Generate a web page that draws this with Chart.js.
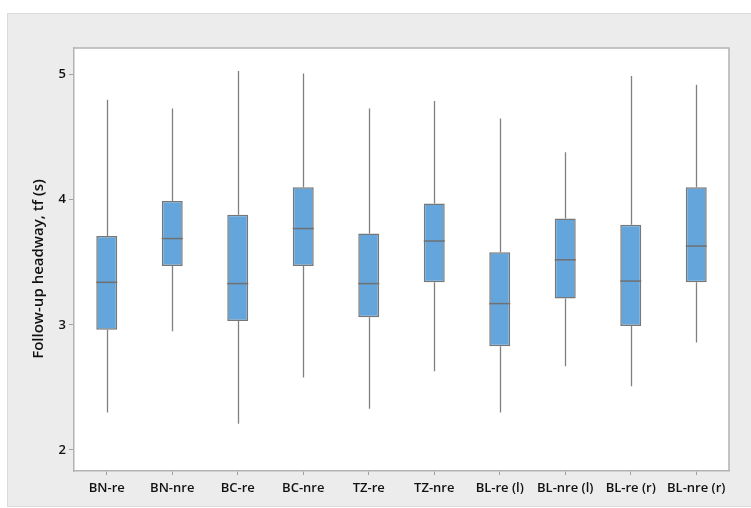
<!DOCTYPE html>
<html>
<head>
<meta charset="utf-8">
<script src="https://cdn.jsdelivr.net/npm/chart.js@4"></script>
<style>
  html, body { margin: 0; padding: 0; background: #ffffff; }
  #wrap { width: 751px; height: 508px; position: relative; }
  canvas { display: block; }
</style>
</head>
<body>
<div id="wrap"><canvas id="c" width="751" height="508"></canvas></div>
<script>
// Follow-up headway per approach group: whisker ends, quartiles and median (seconds)
const categories = ['BN-re', 'BN-nre', 'BC-re', 'BC-nre', 'TZ-re', 'TZ-nre', 'BL-re (l)', 'BL-nre (l)', 'BL-re (r)', 'BL-nre (r)'];
const whiskerLow  = [2.30, 2.95, 2.21, 2.58, 2.33, 2.63, 2.30, 2.67, 2.51, 2.86];
const q1          = [2.96, 3.47, 3.03, 3.47, 3.06, 3.34, 2.83, 3.21, 2.99, 3.34];
const median      = [3.34, 3.69, 3.33, 3.77, 3.33, 3.67, 3.17, 3.52, 3.35, 3.63];
const q3          = [3.71, 3.99, 3.88, 4.10, 3.73, 3.97, 3.58, 3.85, 3.80, 4.10];
const whiskerHigh = [4.80, 4.73, 5.03, 5.01, 4.73, 4.79, 4.65, 4.38, 4.99, 4.92];
const yTickValues = [2, 3, 4, 5];
const yTitle = 'Follow-up headway, tf (s)';

const FONT = "'Open Sans', 'DejaVu Sans', sans-serif";
const LINE_GREY = '#b3b3b3';

// Panel background, white plot area and frame
const framePlugin = {
  id: 'frame',
  beforeDraw(chart) {
    const { ctx, chartArea: a } = chart;
    ctx.save();
    ctx.fillStyle = '#ececec';
    ctx.fillRect(7, 13, 751 - 7, 506 - 13);
    ctx.strokeStyle = '#dadada';
    ctx.lineWidth = 1;
    ctx.strokeRect(7.5, 13.5, 751, 506 - 13);
    ctx.fillStyle = '#ffffff';
    ctx.fillRect(a.left, a.top, a.right - a.left, a.bottom - a.top);
    ctx.restore();
  },
  afterDraw(chart) {
    const { ctx, chartArea: a } = chart;
    ctx.save();
    ctx.strokeStyle = LINE_GREY;
    ctx.lineWidth = 1.5;
    ctx.beginPath();
    ctx.moveTo(a.left, a.top);
    ctx.lineTo(a.right, a.top);
    ctx.lineTo(a.right, a.bottom);
    ctx.stroke();
    // rotated axis title
    ctx.translate(39, 269);
    ctx.rotate(-Math.PI / 2);
    ctx.fillStyle = '#111111';
    ctx.font = "600 15px " + FONT;
    ctx.textAlign = 'center';
    ctx.textBaseline = 'middle';
    ctx.fillText(yTitle, 0, 0);
    ctx.restore();
  }
};

// Whiskers behind the boxes, medians on top
const boxPlotPlugin = {
  id: 'boxParts',
  beforeDatasetsDraw(chart) {
    const { ctx } = chart;
    const y = chart.scales.y;
    const bars = chart.getDatasetMeta(0).data;
    ctx.save();
    ctx.strokeStyle = '#808080';
    ctx.lineWidth = 1.3;
    bars.forEach((bar, i) => {
      const x = Math.round(bar.x) + 0.5;
      ctx.beginPath();
      ctx.moveTo(x, y.getPixelForValue(whiskerHigh[i]));
      ctx.lineTo(x, y.getPixelForValue(q3[i]));
      ctx.moveTo(x, y.getPixelForValue(q1[i]));
      ctx.lineTo(x, y.getPixelForValue(whiskerLow[i]));
      ctx.stroke();
    });
    ctx.restore();
  },
  afterDatasetsDraw(chart) {
    const { ctx } = chart;
    const y = chart.scales.y;
    const bars = chart.getDatasetMeta(0).data;
    ctx.save();
    ctx.strokeStyle = '#707070';
    ctx.lineWidth = 1.5;
    bars.forEach((bar, i) => {
      const py = y.getPixelForValue(median[i]);
      ctx.beginPath();
      ctx.moveTo(bar.x - bar.width / 2, py);
      ctx.lineTo(bar.x + bar.width / 2, py);
      ctx.stroke();
    });
    ctx.restore();
  }
};

new Chart(document.getElementById('c'), {
  type: 'bar',
  data: {
    labels: categories,
    datasets: [{
      data: q1.map((v, i) => [v, q3[i]]),
      backgroundColor: '#64a6dc',
      borderColor: '#777777',
      borderWidth: 1.5,
      borderSkipped: false,
      categoryPercentage: 1,
      barPercentage: 0.32
    }]
  },
  options: {
    responsive: false,
    animation: false,
    devicePixelRatio: 1,
    layout: { padding: { top: 48, right: 22, left: 0, bottom: 0 } },
    plugins: {
      legend: { display: false },
      tooltip: { enabled: false }
    },
    scales: {
      x: {
        afterFit(scale) { scale.height = 37; },
        grid: { offset: false, drawOnChartArea: false, drawTicks: true, tickLength: 4, color: '#a0a0a0', lineWidth: 1 },
        border: { display: true, color: LINE_GREY, width: 1.5 },
        ticks: {
          color: '#111111',
          font: { family: FONT, size: 13, weight: '600' },
          padding: 5,
          maxRotation: 0,
          autoSkip: false
        }
      },
      y: {
        min: 1.832,
        max: 5.213,
        afterFit(scale) { scale.width = 74; },
        afterBuildTicks(scale) { scale.ticks = yTickValues.map(v => ({ value: v })); },
        grid: { drawOnChartArea: false, drawTicks: true, tickLength: 5, color: '#a0a0a0', lineWidth: 1 },
        border: { display: true, color: LINE_GREY, width: 1.5 },
        ticks: {
          color: '#111111',
          font: { family: FONT, size: 13, weight: '600' },
          padding: 3
        }
      }
    }
  },
  plugins: [framePlugin, boxPlotPlugin]
});
</script>
</body>
</html>
